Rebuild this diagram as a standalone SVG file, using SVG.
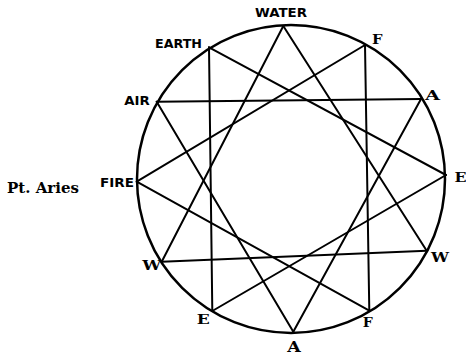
<svg xmlns="http://www.w3.org/2000/svg" width="466" height="353" viewBox="0 0 466 353">
<style>
.bg{fill:#fff}
.ring{fill:none;stroke:#000;stroke-width:2.5}
.ln{stroke:#000;stroke-width:2;stroke-linecap:round}
.w{font-family:"DejaVu Sans","Liberation Sans",sans-serif;font-weight:bold;font-size:12px;fill:#000}
.s{font-family:"DejaVu Serif","Liberation Serif",serif;font-weight:bold;font-size:12px;fill:#000}
.t{font-family:"DejaVu Serif","Liberation Serif",serif;font-weight:bold;font-size:15px;fill:#000}
</style>
<rect class="bg" x="0" y="0" width="466" height="353"/>
<circle class="ring" cx="291" cy="179" r="154"/>
<g id="connectors">
  <line class="ln" x1="283.3" y1="26" x2="426.7" y2="250.7"/>
  <line class="ln" x1="426.7" y1="250.7" x2="161.7" y2="261.7"/>
  <line class="ln" x1="161.7" y1="261.7" x2="283.3" y2="26"/>
  <line class="ln" x1="136.7" y1="181.7" x2="365" y2="45"/>
  <line class="ln" x1="365" y1="45" x2="369.3" y2="310.7"/>
  <line class="ln" x1="369.3" y1="310.7" x2="136.7" y2="181.7"/>
  <line class="ln" x1="156.7" y1="101.7" x2="421" y2="99"/>
  <line class="ln" x1="421" y1="99" x2="293.3" y2="331.7"/>
  <line class="ln" x1="293.3" y1="331.7" x2="156.7" y2="101.7"/>
  <line class="ln" x1="209" y1="47.3" x2="446" y2="175"/>
  <line class="ln" x1="446" y1="175" x2="212.3" y2="311"/>
  <line class="ln" x1="212.3" y1="311" x2="209" y2="47.3"/>
</g>
<g id="node-water"><text class="w" x="255" y="17" textLength="52" lengthAdjust="spacingAndGlyphs">WATER</text></g>
<g id="node-f-top"><text class="s" x="372" y="44" textLength="10.5" lengthAdjust="spacingAndGlyphs">F</text></g>
<g id="node-a-right"><text class="s" x="425" y="100" textLength="15" lengthAdjust="spacingAndGlyphs">A</text></g>
<g id="node-e-right"><text class="s" x="454.5" y="181.5" textLength="12" lengthAdjust="spacingAndGlyphs">E</text></g>
<g id="node-w-right"><text class="s" x="431" y="261.5" textLength="18" lengthAdjust="spacingAndGlyphs">W</text></g>
<g id="node-f-bottom"><text class="s" x="362.7" y="326.5" textLength="10" lengthAdjust="spacingAndGlyphs">F</text></g>
<g id="node-a-bottom"><text class="s" x="287.3" y="351.5" textLength="13.5" lengthAdjust="spacingAndGlyphs" style="font-size:14px">A</text></g>
<g id="node-e-bottom"><text class="s" x="196.7" y="324" textLength="13" lengthAdjust="spacingAndGlyphs">E</text></g>
<g id="node-w-left"><text class="s" x="142.3" y="270" textLength="19" lengthAdjust="spacingAndGlyphs">W</text></g>
<g id="node-fire"><text class="w" x="100" y="187" textLength="34" lengthAdjust="spacingAndGlyphs">FIRE</text></g>
<g id="node-air"><text class="w" x="124.3" y="105" textLength="25.5" lengthAdjust="spacingAndGlyphs">AIR</text></g>
<g id="node-earth"><text class="w" x="155" y="48" textLength="47" lengthAdjust="spacingAndGlyphs">EARTH</text></g>
<g id="label-aries"><text class="t" x="7" y="192.5" textLength="72" lengthAdjust="spacingAndGlyphs">Pt. Aries</text></g>
</svg>
